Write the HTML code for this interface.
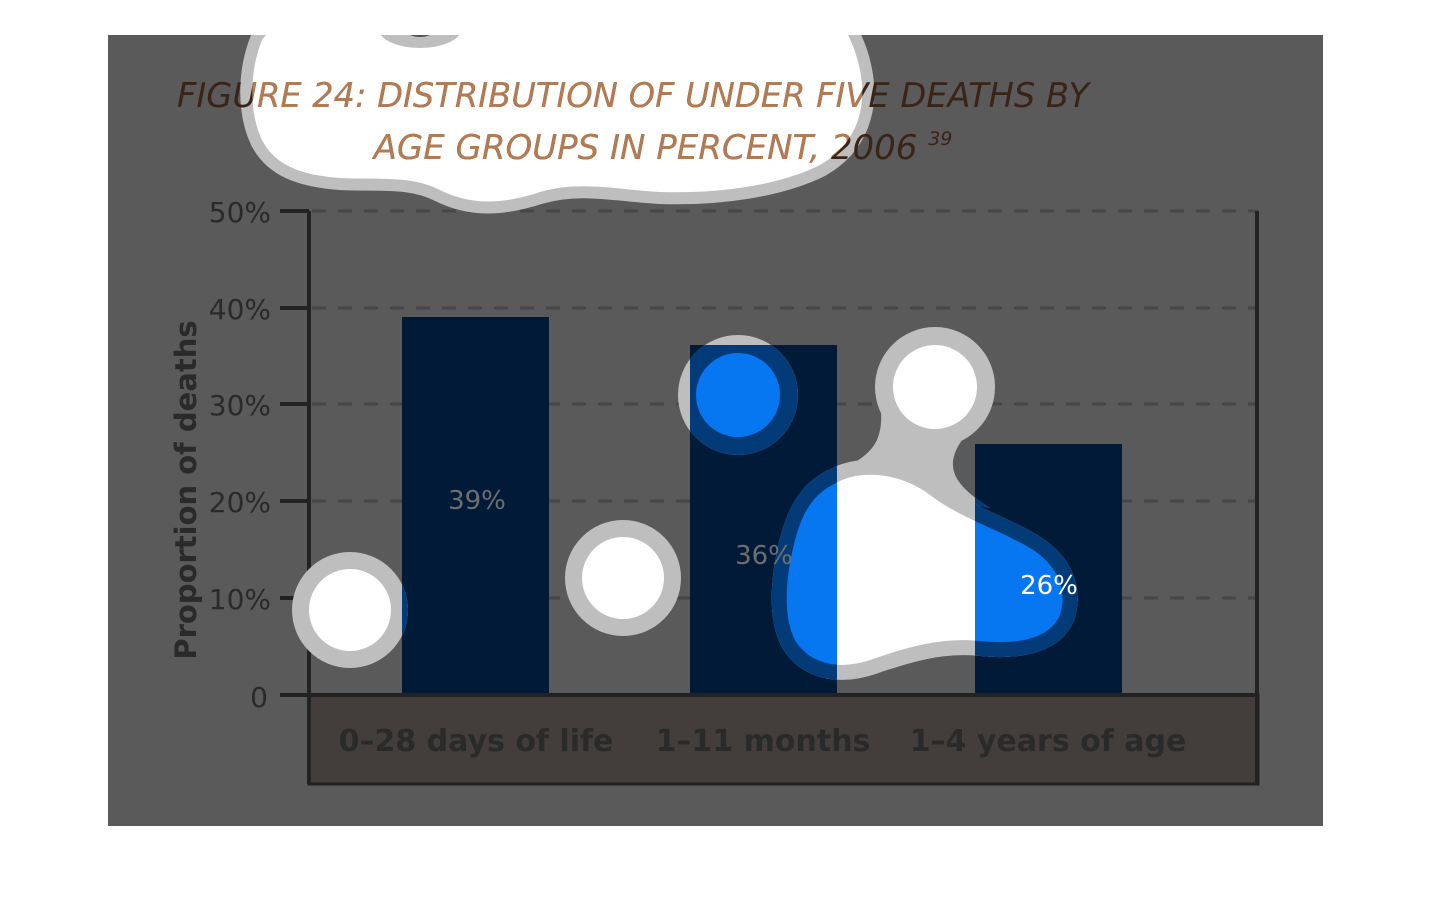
<!DOCTYPE html>
<html><head><meta charset="utf-8"><style>
html,body{margin:0;padding:0;background:#fff;width:1430px;height:920px;overflow:hidden}
svg{display:block}
text{font-family:"DejaVu Sans","Liberation Sans",sans-serif}
</style></head><body>
<svg width="1430" height="920" viewBox="0 0 1430 920" xmlns="http://www.w3.org/2000/svg">
<defs>
<clipPath id="area"><rect x="108" y="35" width="1215" height="791"/></clipPath>
<clipPath id="bars">
<rect x="402" y="317" width="147" height="376"/>
<rect x="690" y="345" width="147" height="348"/>
<rect x="975" y="444" width="147" height="249"/>
</clipPath>
<path id="topblob" d="M262,40 C250,70 248,110 262,140 C275,165 300,175 340,178 C380,180 410,175 440,190 C470,205 500,205 540,192 C580,180 620,190 660,192 C720,194 780,185 820,165 C855,145 868,110 860,70 C856,50 850,40 846,30 L270,30 Z"/>
<path id="body" d="M838,482 C860,470 900,472 930,495 C960,518 1000,530 1030,548 C1058,565 1068,590 1060,615 C1050,638 1020,645 980,641 C940,637 905,648 870,660 C840,670 810,665 795,640 C782,615 786,575 795,540 C803,510 815,492 838,482 Z"/>
<g id="blobs">
 <circle cx="350" cy="610" r="58" style="fill:var(--g,#bebebe)"/>
 <circle cx="623" cy="578" r="58" style="fill:var(--g,#bebebe)"/>
 <circle cx="738" cy="395" r="60" style="fill:var(--g,#bebebe)"/>
 <circle cx="935" cy="387" r="60" style="fill:var(--g,#bebebe)"/>
 <path d="M880,400 C885,440 875,455 835,472 L990,508 C955,485 935,465 975,425 Z" style="fill:var(--g,#bebebe)"/>
 <use href="#body" style="fill:var(--g,#bebebe);stroke:var(--g,#bebebe)" stroke-width="30" stroke-linejoin="round"/>
 <use href="#topblob" style="fill:var(--g,#bebebe);stroke:var(--g,#bebebe)" stroke-width="24" stroke-linejoin="round"/>
 <use href="#topblob" style="fill:var(--w,#fff)"/>
 <ellipse cx="420" cy="28" rx="42" ry="20" style="fill:var(--g,#bebebe)"/>
 <ellipse cx="420" cy="30" rx="14" ry="7" fill="#555"/>
 <circle cx="350" cy="610" r="41" style="fill:var(--w,#fff)"/>
 <circle cx="623" cy="578" r="41" style="fill:var(--w,#fff)"/>
 <circle cx="738" cy="395" r="42" style="fill:var(--w,#fff)"/>
 <circle cx="935" cy="387" r="42" style="fill:var(--w,#fff)"/>
 <use href="#body" style="fill:var(--w,#fff)"/>
</g>
<clipPath id="topclip"><use href="#topblob"/></clipPath>
</defs>
<rect x="108" y="35" width="1215" height="791" fill="#5a5a5a"/>
<g clip-path="url(#area)">
<g stroke="#474747" stroke-width="3" stroke-dasharray="14 12">
<line x1="312" y1="211" x2="1258" y2="211"/>
<line x1="312" y1="308" x2="1258" y2="308"/>
<line x1="312" y1="404" x2="1258" y2="404"/>
<line x1="312" y1="501" x2="1258" y2="501"/>
<line x1="312" y1="598" x2="1258" y2="598"/>
</g>
<rect x="309" y="695" width="949" height="89" fill="#433e3b" stroke="#222" stroke-width="3"/>
<g fill="#001a38">
<rect x="402" y="317" width="147" height="376"/>
<rect x="690" y="345" width="147" height="348"/>
<rect x="975" y="444" width="147" height="249"/>
</g>
<g stroke="#222" stroke-width="4">
<line x1="309" y1="211" x2="309" y2="784"/>
<line x1="1257" y1="211" x2="1257" y2="784"/>
<line x1="280" y1="695" x2="1258" y2="695"/>
<line x1="280" y1="211" x2="309" y2="211"/>
<line x1="280" y1="308" x2="309" y2="308"/>
<line x1="280" y1="404" x2="309" y2="404"/>
<line x1="280" y1="501" x2="309" y2="501"/>
<line x1="280" y1="598" x2="309" y2="598"/>
</g>
<g font-size="28" fill="#2a2a2a" text-anchor="end">
<text x="271" y="222">50%</text><text x="271" y="319">40%</text><text x="271" y="415">30%</text>
<text x="271" y="512">20%</text><text x="271" y="609">10%</text><text x="268" y="707">0</text>
</g>
<text transform="translate(196,490) rotate(-90)" text-anchor="middle" font-size="29" font-weight="bold" fill="#2a2a2a">Proportion of deaths</text>
<g font-size="30" font-weight="bold" fill="#2a2a2a" text-anchor="middle">
<text x="476" y="751">0–28 days of life</text><text x="763" y="751">1–11 months</text><text x="1048" y="751">1–4 years of age</text>
</g>
<use href="#blobs"/>
<g clip-path="url(#bars)"><use href="#blobs" style="--w:#0677f0;--g:#033a78"/></g>
<g font-size="26" text-anchor="middle">
<text x="477" y="509" fill="#6e6e6e">39%</text>
<text x="764" y="564" fill="#6e6e6e">36%</text>
<text x="1049" y="594" fill="#fff">26%</text>
</g>
<g font-size="34" font-style="italic" text-anchor="middle" fill="#3a2418">
<text x="633" y="107" textLength="912" lengthAdjust="spacingAndGlyphs">FIGURE 24: DISTRIBUTION OF UNDER FIVE DEATHS BY</text>
<text x="663" y="159">AGE GROUPS IN PERCENT, 2006 <tspan font-size="19" dy="-14">39</tspan></text>
</g>
<g clip-path="url(#topclip)" font-size="34" font-style="italic" text-anchor="middle" fill="#b47a52">
<text x="633" y="107" textLength="912" lengthAdjust="spacingAndGlyphs">FIGURE 24: DISTRIBUTION OF UNDER FIVE DEATHS BY</text>
<text x="663" y="159">AGE GROUPS IN PERCENT, 2006 <tspan font-size="19" dy="-14">39</tspan></text>
</g>
</g>
</svg>
</body></html>
